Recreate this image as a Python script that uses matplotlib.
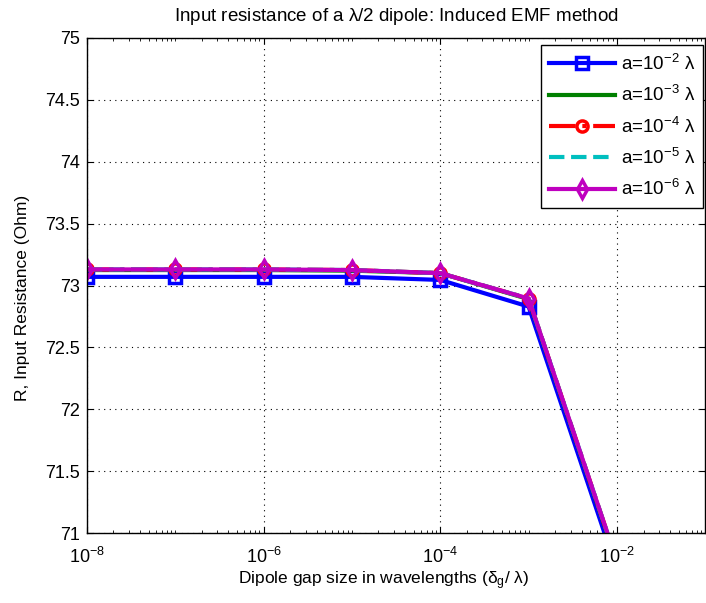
import matplotlib
matplotlib.use("Agg")
import matplotlib.pyplot as plt
from matplotlib.ticker import LogLocator, FixedLocator, NullFormatter

plt.rcParams['font.family'] = ['Liberation Sans', 'DejaVu Sans']
plt.rcParams['mathtext.fontset'] = 'custom'
plt.rcParams['mathtext.rm'] = 'Liberation Sans'
plt.rcParams['mathtext.it'] = 'Liberation Sans'

# Gap sizes (in wavelengths) and input resistance for each wire radius
gap = [1e-8, 1e-7, 1e-6, 1e-5, 1e-4, 1e-3, 1e-2]
r_a2 = [73.07, 73.07, 73.07, 73.07, 73.045, 72.83, 70.70]
r_a3 = [73.125, 73.125, 73.125, 73.12, 73.10, 72.89, 70.76]
r_a4 = [73.13, 73.13, 73.13, 73.125, 73.10, 72.895, 70.77]
r_a5 = [73.13, 73.13, 73.13, 73.125, 73.10, 72.895, 70.77]
r_a6 = [73.13, 73.13, 73.13, 73.125, 73.10, 72.895, 70.77]

labels = [r'a=10$^{-2}$ $\lambda$', r'a=10$^{-3}$ $\lambda$', r'a=10$^{-4}$ $\lambda$',
          r'a=10$^{-5}$ $\lambda$', r'a=10$^{-6}$ $\lambda$']
xtick_vals = [1e-8, 1e-6, 1e-4, 1e-2]
xtick_labels = [r'10$^{-8}$', r'10$^{-6}$', r'10$^{-4}$', r'10$^{-2}$']
ytick_vals = [71, 71.5, 72, 72.5, 73, 73.5, 74, 74.5, 75]
ytick_labels = ['71', '71.5', '72', '72.5', '73', '73.5', '74', '74.5', '75']

fig = plt.figure(figsize=(7.06, 6.03), dpi=100)
ax = fig.add_axes([0.123, 0.116, 0.876, 0.821])

lw = 3
ax.plot(gap, r_a2, '-s', color='#0000ff', lw=lw, ms=8, mfc='none', mew=2.5, label=labels[0])
ax.plot(gap, r_a3, '-', color='#008000', lw=lw, label=labels[1])
ax.plot(gap, r_a4, '-.o', color='#ff0000', lw=lw, ms=8, mfc='none', mew=2.5, label=labels[2])
ax.plot(gap, r_a5, '--', color='#00bfbf', lw=lw, label=labels[3])
ax.plot(gap, r_a6, '-d', color='#bf00bf', lw=lw, ms=9, mfc='none', mew=2.5, label=labels[4])

ax.set_xscale('log')
ax.set_xlim(1e-8, 1e-1)
ax.set_ylim(71, 75)
ax.xaxis.set_major_locator(FixedLocator(xtick_vals))
ax.xaxis.set_minor_locator(LogLocator(base=10, subs=[1, 2, 3, 4, 5, 6, 7, 8, 9], numticks=100))
ax.xaxis.set_minor_formatter(NullFormatter())
ax.set_xticklabels(xtick_labels)
ax.set_yticks(ytick_vals)
ax.set_yticklabels(ytick_labels)

ax.tick_params(which='both', direction='in', top=True, right=True, labelsize=13)
ax.tick_params(which='major', length=4, width=0.8)
ax.tick_params(which='minor', length=2, width=0.6)
ax.tick_params(axis='x', which='major', pad=10)
ax.tick_params(axis='y', which='major', pad=5)
ax.grid(True, which='major', linestyle=(0, (1, 4)), color='black', linewidth=0.8)
ax.grid(False, which='minor')
for s in ax.spines.values():
    s.set_linewidth(1.0)

ax.set_title(r'Input resistance of a $\lambda$/2 dipole: Induced EMF method', fontsize=13.5, pad=12)
ax.set_xlabel(r'Dipole gap size in wavelengths ($\delta_{\rm g}$/ $\lambda$)', fontsize=12.5)
ax.xaxis.set_label_coords(0.48, -0.074)
ax.set_ylabel('R, Input Resistance (Ohm)', fontsize=12.5)
ax.yaxis.set_label_coords(-0.092, 0.475)

leg = ax.legend(loc='upper right', bbox_to_anchor=(0.997, 0.985), fontsize=13.5, fancybox=False,
                edgecolor='black', framealpha=1, borderaxespad=0.0, handlelength=3.5,
                labelspacing=0.6, borderpad=0.45, handletextpad=0.3)
leg.get_frame().set_linewidth(1.0)

fig.savefig('out.png', dpi=100)
